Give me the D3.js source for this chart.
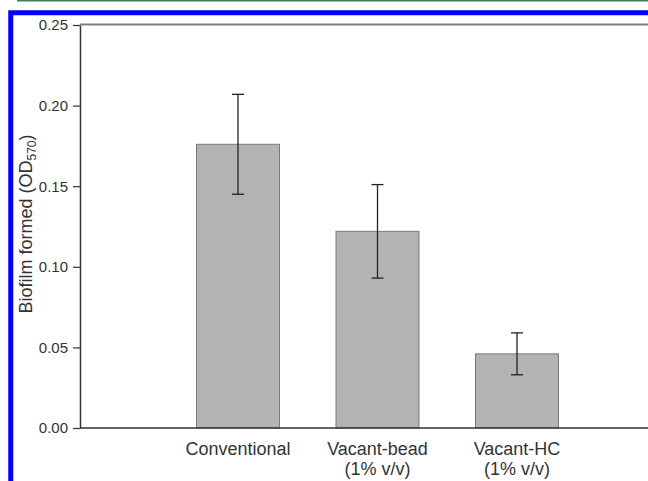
<!DOCTYPE html>
<html>
<head>
<meta charset="utf-8">
<script src="https://cdn.jsdelivr.net/npm/d3@7"></script>
<style>
  body { margin: 0; background: #fff; }
  svg { display: block; font-family: Arial, "Liberation Sans", sans-serif; }
</style>
</head>
<body>
<svg width="648" height="481"></svg>
<script>
// data
var categories = ["Conventional", "Vacant-bead", "Vacant-HC"];
var subLabels = ["", "(1% v/v)", "(1% v/v)"];
var means = [0.176, 0.122, 0.046];
var errors = [0.031, 0.029, 0.013];
var yTicks = [0.00, 0.05, 0.10, 0.15, 0.20, 0.25];

var svg = d3.select("svg");

// page decorations (journal frame)
svg.append("line")
    .attr("x1", 17).attr("x2", 648).attr("y1", 0.7).attr("y2", 0.7)
    .attr("stroke", "#3d7d5e").attr("stroke-width", 1.5);
svg.append("rect")
    .attr("x", 10.75).attr("y", 12.75).attr("width", 700).attr("height", 520)
    .attr("fill", "none").attr("stroke", "#0000ff").attr("stroke-width", 5);

var plotLeft = 80, plotTop = 25, plotBottom = 428, plotRight = 700;

var y = d3.scaleLinear().domain([0, 0.25]).range([plotBottom, plotTop]);
var x = d3.scaleBand().domain(categories).range([140, 615]).padding(0.405);

// top frame line
svg.append("line")
    .attr("x1", plotLeft).attr("x2", plotRight).attr("y1", plotTop - 0.5).attr("y2", plotTop - 0.5)
    .attr("stroke", "#808080").attr("stroke-width", 2);

// bars
svg.selectAll(".bar")
    .data(categories)
    .enter().append("rect")
    .attr("class", "bar")
    .attr("x", function(d) { return x(d); })
    .attr("width", x.bandwidth())
    .attr("y", function(d, i) { return y(means[i]); })
    .attr("height", function(d, i) { return y(0) - y(means[i]); })
    .attr("fill", "#b3b3b3")
    .attr("stroke", "#7a7a7a")
    .attr("stroke-width", 1);

// error bars
var eb = svg.selectAll(".err")
    .data(categories)
    .enter().append("g")
    .attr("class", "err")
    .attr("stroke", "#222")
    .attr("stroke-width", 1.3);
eb.append("line")
    .attr("x1", function(d) { return x(d) + x.bandwidth() / 2; })
    .attr("x2", function(d) { return x(d) + x.bandwidth() / 2; })
    .attr("y1", function(d, i) { return y(means[i] + errors[i]); })
    .attr("y2", function(d, i) { return y(means[i] - errors[i]); });
[1, -1].forEach(function(s) {
  eb.append("line")
      .attr("x1", function(d) { return x(d) + x.bandwidth() / 2 - 6; })
      .attr("x2", function(d) { return x(d) + x.bandwidth() / 2 + 6; })
      .attr("y1", function(d, i) { return y(means[i] + s * errors[i]); })
      .attr("y2", function(d, i) { return y(means[i] + s * errors[i]); });
});

// y axis
var yAxis = svg.append("g")
    .attr("transform", "translate(" + plotLeft + ",0)")
    .call(d3.axisLeft(y).tickValues(yTicks).tickFormat(d3.format(".2f")).tickSize(7).tickSizeOuter(0));
yAxis.select(".domain").attr("stroke", "#333").attr("stroke-width", 1.5);
yAxis.selectAll(".tick line").attr("stroke", "#333").attr("stroke-width", 1.2);
yAxis.selectAll(".tick text")
    .attr("x", -12)
    .attr("fill", "#333")
    .style("font-size", "15px")
    .style("font-family", "Arial, 'Liberation Sans', sans-serif");

// x axis line
svg.append("line")
    .attr("x1", plotLeft).attr("x2", plotRight).attr("y1", plotBottom).attr("y2", plotBottom)
    .attr("stroke", "#333").attr("stroke-width", 1.5);

// x labels
var xl = svg.selectAll(".xlab")
    .data(categories)
    .enter().append("text")
    .attr("class", "xlab")
    .attr("text-anchor", "middle")
    .attr("fill", "#333")
    .style("font-size", "18px");
xl.append("tspan")
    .attr("x", function(d) { return x(d) + x.bandwidth() / 2; })
    .attr("y", 455)
    .text(function(d) { return d; });
xl.append("tspan")
    .attr("x", function(d) { return x(d) + x.bandwidth() / 2; })
    .attr("y", 475)
    .text(function(d, i) { return subLabels[i]; });

// y title
var yt = svg.append("text")
    .attr("transform", "translate(32,224) rotate(-90)")
    .attr("text-anchor", "middle")
    .attr("fill", "#333")
    .style("font-size", "18px");
yt.append("tspan").text("Biofilm formed (OD");
yt.append("tspan").attr("dy", 4).style("font-size", "12px").text("570");
yt.append("tspan").attr("dy", -4).text(")");
</script>
</body>
</html>
